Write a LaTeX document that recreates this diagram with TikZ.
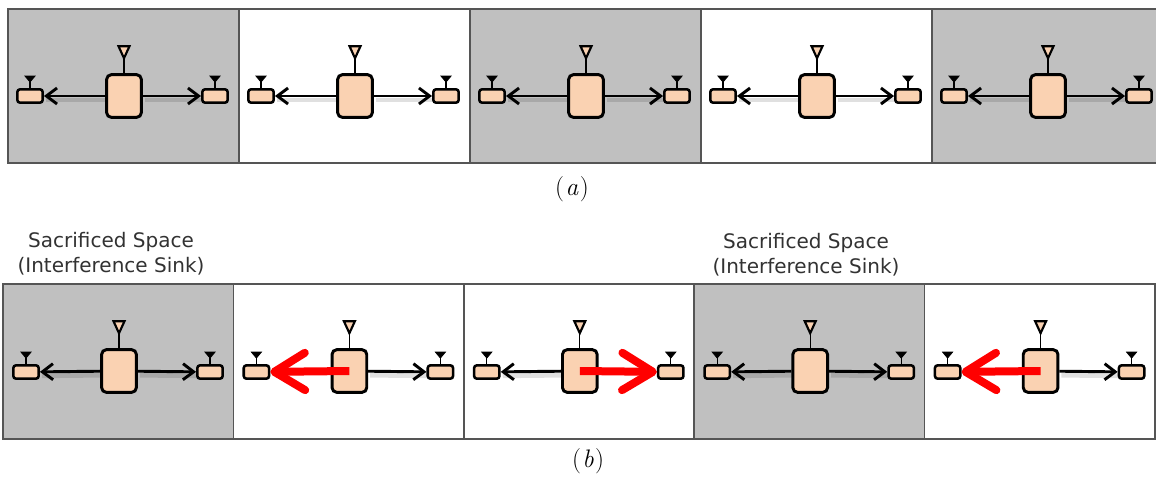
\documentclass[tikz,border=0pt]{standalone}
\usepackage{fontspec}
\newfontfamily\labelfont{DejaVu Sans}
\usetikzlibrary{arrows.meta}
\definecolor{sinkgrey}{RGB}{192,192,192}
\definecolor{peach}{RGB}{250,210,178}
\definecolor{framegrey}{RGB}{85,85,85}
\definecolor{textgrey}{RGB}{50,50,50}
\tikzset{
  cell/.style={draw=framegrey, line width=1.3pt},
  ap/.style={draw, line width=2.2pt, rounded corners=3.5pt, fill=peach,
    minimum width=26pt, minimum height=32pt, inner sep=0pt},
  sta/.style={draw, line width=1.9pt, rounded corners=2pt, fill=peach,
    minimum width=19pt, minimum height=10pt, inner sep=0pt},
  mast/.style={line width=0.8pt},
  apant/.style={draw, line width=1.6pt, fill=peach},
  staant/.style={draw, line width=0.6pt, fill=black},
  link/.style={line width=2.2pt, -{Straight Barb[length=8pt,width=12pt]},
    preaction={draw=black, opacity=.12, line width=3.5pt, arrows=-,
      transform canvas={shift={(1.5pt,-3pt)}}}},
  hit/.style={red, line width=6pt, -{Straight Barb[round,length=23pt,width=28pt]}},
  sink/.style={font=\labelfont\fontsize{15pt}{18.75pt}\selectfont, text=textgrey, align=center},
  caption/.style={font=\fontsize{19pt}{22pt}\selectfont},
}
\begin{document}
\begin{tikzpicture}[x=0.75pt, y=-0.75pt]
  \useasboundingbox (0,0) rectangle (1156,476);

  % (a): every cell of the row in use
  \foreach \i/\shade in {0/sinkgrey,1/white,2/sinkgrey,3/white,4/sinkgrey} {
    \pgfmathsetmacro\xo{8+231*\i}
    \draw[cell, fill=\shade] (\xo,9) rectangle ++(231,154);
    \node[ap] (ap\i) at (\xo+116,96) {};
    \node[sta] (sl\i) at (\xo+22,96) {};
    \node[sta] (sr\i) at (\xo+207,96) {};
    \draw[mast] (ap\i.north) -- ++(0,-15) coordinate (tap\i);
    \draw[apant] (tap\i) -- ++(-5.5,-12) -- ++(11,0) -- cycle;
    \draw[mast] (sl\i.north) -- ++(0,-6) coordinate (tsl\i);
    \draw[staant] (tsl\i) -- ++(-5,-6) -- ++(10,0) -- cycle;
    \draw[mast] (sr\i.north) -- ++(0,-6) coordinate (tsr\i);
    \draw[staant] (tsr\i) -- ++(-5,-6) -- ++(10,0) -- cycle;
    \draw[link] (ap\i) -- (sl\i);
    \draw[link] (ap\i) -- (sr\i);
  }
  \node[caption] (capa) at (572,189) {(\kern1pt\textit{a}\kern1pt)};

  % (b): two cells given up as interference sinks
  \node[sink] (sink0) at (111,254) {Sacrificed Space\\(Interference Sink)};
  \node[sink] (sink3) at (806,255) {Sacrificed Space\\(Interference Sink)};

  \foreach \i/\shade in {0/sinkgrey,1/white,2/white,3/sinkgrey,4/white} {
    \pgfmathsetmacro\xo{3+230.4*\i}
    \draw[cell, fill=\shade] (\xo,284) rectangle ++(230.4,155);
    \node[ap] (bap\i) at (\xo+116,371) {};
    \node[sta] (bsl\i) at (\xo+23,372) {};
    \node[sta] (bsr\i) at (\xo+207,372) {};
    \draw[mast] (bap\i.north) -- ++(0,-15) coordinate (btap\i);
    \draw[apant] (btap\i) -- ++(-5.5,-12) -- ++(11,0) -- cycle;
    \draw[mast] (bsl\i.north) -- ++(0,-6) coordinate (btsl\i);
    \draw[staant] (btsl\i) -- ++(-5,-6) -- ++(10,0) -- cycle;
    \draw[mast] (bsr\i.north) -- ++(0,-6) coordinate (btsr\i);
    \draw[staant] (btsr\i) -- ++(-5,-6) -- ++(10,0) -- cycle;
  }
  \draw[link] (bap0) -- (bsl0);
  \draw[link] (bap0) -- (bsr0);
  \draw[link] (bap1) -- (bsr1);
  \draw[link] (bap2) -- (bsl2);
  \draw[link] (bap3) -- (bsl3);
  \draw[link] (bap3) -- (bsr3);
  \draw[link] (bap4) -- (bsr4);
  \draw[hit] (bap1.center) -- (bsl1);
  \draw[hit] (bap2.center) -- (bsr2);
  \draw[hit] (bap4.center) -- (bsl4);
  \node[caption] (capb) at (588,461) {(\kern1pt\textit{b}\kern1pt)};
\end{tikzpicture}
\end{document}
